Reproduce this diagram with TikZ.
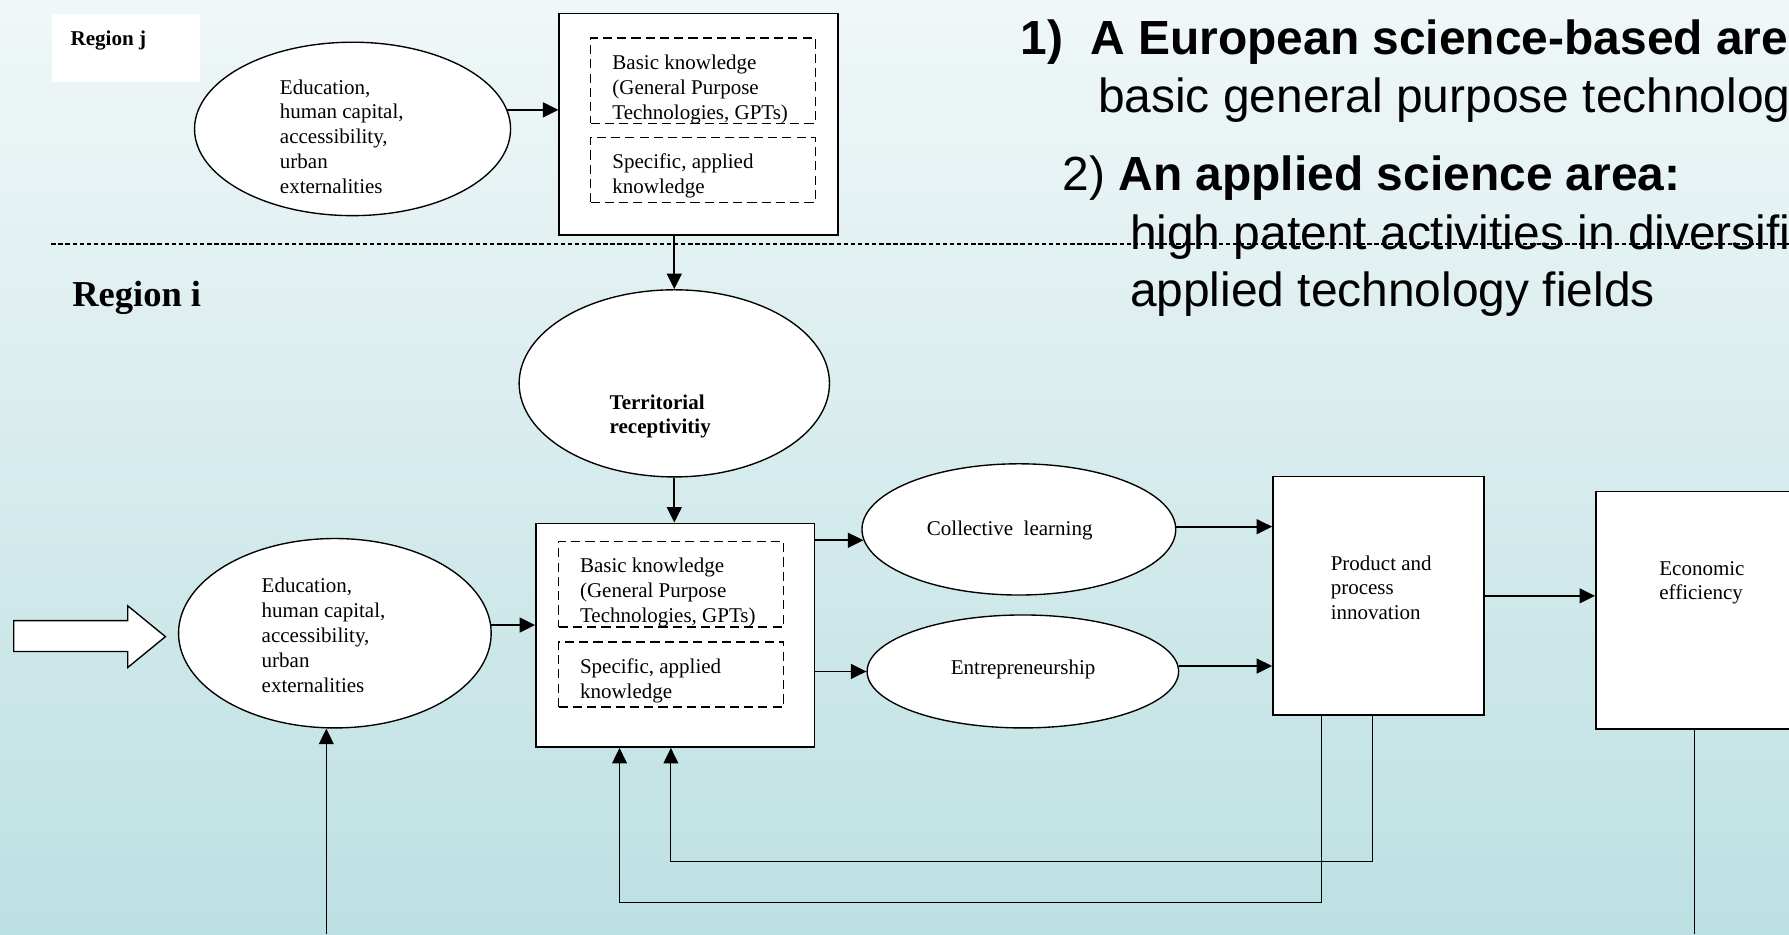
\documentclass[tikz,border=0pt]{standalone}
\usepackage{fontspec}
\setmainfont{Liberation Serif}
\newfontfamily\slidefont{Liberation Sans}
\usetikzlibrary{shapes.geometric,arrows.meta,calc}

\definecolor{bgtop}{RGB}{240,247,248}
\definecolor{bgbot}{RGB}{189,224,226}

% left-aligned block whose reference point is the first baseline
\newcommand{\txtlines}[1]{\begin{tabular}[t]{@{}l@{}}#1\end{tabular}}

\begin{document}
\begin{tikzpicture}[
  x=0.5pt, y=-0.5pt,
  font=\fontsize{9.2pt}{10.9pt}\selectfont,
  box/.style={draw, fill=white, line width=0.75pt, inner sep=0, anchor=north west},
  dbox/.style={draw, dash pattern=on 4pt off 2.25pt, line width=0.6pt, inner sep=0, anchor=north west},
  oval/.style={ellipse, draw, fill=white, line width=0.6pt, inner sep=0},
  lbl/.style={anchor=base west, inner sep=0},
  arr/.style={line width=0.8pt, -{Triangle[length=6.8pt,width=6.5pt]}},
  fb/.style={line width=0.5pt},
  fbarr/.style={line width=0.5pt, -{Triangle[length=6.8pt,width=6.5pt]}},
  slide/.style={anchor=base west, inner sep=0, font=\slidefont\fontsize{21pt}{25pt}\selectfont},
  divider/.style={line width=0.6pt, dash pattern=on 2pt off 1.1pt}
]
% background and frame
\shade[top color=bgtop, bottom color=bgbot] (0,0) rectangle (1568,819);
\useasboundingbox (0,0) rectangle (1568,819);
\clip (0,0) rectangle (1568,819);

% ---------- region j ----------
\node[fill=white, inner sep=0, anchor=north west, minimum width=64.6pt, minimum height=29.6pt] (rjbox) at (45.3,12.3) {};
\node[lbl, font=\bfseries\fontsize{9.25pt}{11pt}\selectfont] (rjlab) at (61.4,39.5) {Region j};

\node[oval, minimum width=138.5pt, minimum height=76pt] (ellJ) at (309,113) {};
\node[lbl] (ellJtxt) at (245,82.4) {\txtlines{Education,\\human capital,\\accessibility,\\urban\\externalities}};

\node[box, minimum width=122.25pt, minimum height=97pt] (boxJ) at (489.5,11) {};
\node[dbox, minimum width=98.5pt, minimum height=37.4pt] (dJ1) at (517,32.7) {};
\node[dbox, minimum width=98.5pt, minimum height=28.5pt] (dJ2) at (517,119.8) {};
\node[lbl] (dJ1txt) at (536.4,60.8) {\txtlines{Basic knowledge\\(General Purpose\\Technologies, GPTs)}};
\node[lbl] (dJ2txt) at (536.4,147.5) {\txtlines{Specific, applied\\knowledge}};

\draw[arr] (ellJ.7) -- (ellJ.7 -| boxJ.west);

% ---------- dividing line ----------
\coordinate (divL) at (45,214);
\coordinate (divR) at (1568,214);
\draw[divider] (divL) -- (divR);

% ---------- slide text ----------
\node[slide] (t1) at (894,48) {\textbf{1)}\hspace{12pt}\textbf{A European science-based are}};
\node[slide] (t2) at (962,99) {basic general purpose technolog};
\node[slide] (t3) at (931,167) {2) \textbf{An applied science area:}};
\node[slide] (t4) at (990,219) {high patent activities in diversifi};
\node[slide] (t5) at (990,269) {applied technology fields};

% ---------- region i ----------
\node[lbl, font=\bfseries\fontsize{16pt}{19pt}\selectfont] (rilab) at (63,268.8) {Region i};

\node[oval, minimum width=136pt, minimum height=82pt] (terr) at (591,336) {};
\node[lbl, font=\bfseries\fontsize{9.2pt}{10.8pt}\selectfont] (terrtxt) at (534,358.5) {\txtlines{Territorial\\receptivitiy}};

\node[oval, minimum width=137pt, minimum height=83pt] (ellI) at (293.5,555) {};
\node[lbl] (ellItxt) at (229,519.4) {\txtlines{Education,\\human capital,\\accessibility,\\urban\\externalities}};

\node[box, minimum width=122pt, minimum height=98pt] (boxI) at (469,458) {};
\node[dbox, minimum width=98.5pt, minimum height=37.5pt] (dI1) at (489,474) {};
\node[dbox, minimum width=98.5pt, minimum height=28.5pt] (dI2) at (489,562) {};
\node[lbl] (dI1txt) at (508,502) {\txtlines{Basic knowledge\\(General Purpose\\Technologies, GPTs)}};
\node[lbl] (dI2txt) at (508,590) {\txtlines{Specific, applied\\knowledge}};

\node[oval, minimum width=137.5pt, minimum height=57.5pt] (coll) at (893,464) {};
\node[lbl] (colltxt) at (812,469) {Collective\ \ learning};

\node[oval, minimum width=136.5pt, minimum height=49.5pt] (entr) at (896.5,588.5) {};
\node[lbl] (entrtxt) at (833,591) {Entrepreneurship};

\node[box, minimum width=92.5pt, minimum height=104.5pt] (prod) at (1115,417) {};
\node[lbl] (prodtxt) at (1166,499.6) {\txtlines{Product and\\process\\innovation}};

\node[box, minimum width=111pt, minimum height=104pt] (econ) at (1398,430) {};
\node[lbl] (econtxt) at (1454,504) {\txtlines{Economic\\efficiency}};

% incoming block arrow
\draw[fill=white, line width=0.6pt] (12,544) -- (112,544) -- (112,531) -- (145,558)
  -- (112,585) -- (112,571) -- (12,571) -- cycle;

% ---------- connectors ----------
\draw[arr] (terr.north |- boxJ.south) -- (terr.north);
\draw[arr] (terr.south) -- (terr.south |- boxI.north);
\draw[arr] (ellI.3) -- (ellI.3 -| boxI.west);
\draw[arr] (boxI.east |- coll.184) -- (coll.184);
\draw[arr] (boxI.east |- entr.west) -- (entr.west);
\draw[arr] (coll.1) -- (coll.1 -| prod.west);
\draw[arr] (entr.2) -- (entr.2 -| prod.west);
\draw[arr] (prod.east) -- (prod.east -| econ.west);

% feedback loops
\coordinate (fbA) at (1158,791);
\coordinate (fbB) at (1203,755);
\coordinate (fbAin) at (543,791);
\coordinate (fbBin) at (588,755);
\draw[fbarr] (fbA |- prod.south) -- (fbA) -- (fbAin) -- (fbAin |- boxI.south);
\draw[fbarr] (fbB |- prod.south) -- (fbB) -- (fbBin) -- (fbBin |- boxI.south);

\coordinate (fbL) at (286,819);
\draw[fbarr] (fbL) -- (fbL |- ellI.south);

\coordinate (fbR) at (1485,819);
\draw[fb] (fbR |- econ.south) -- (fbR);
\end{tikzpicture}
\end{document}
